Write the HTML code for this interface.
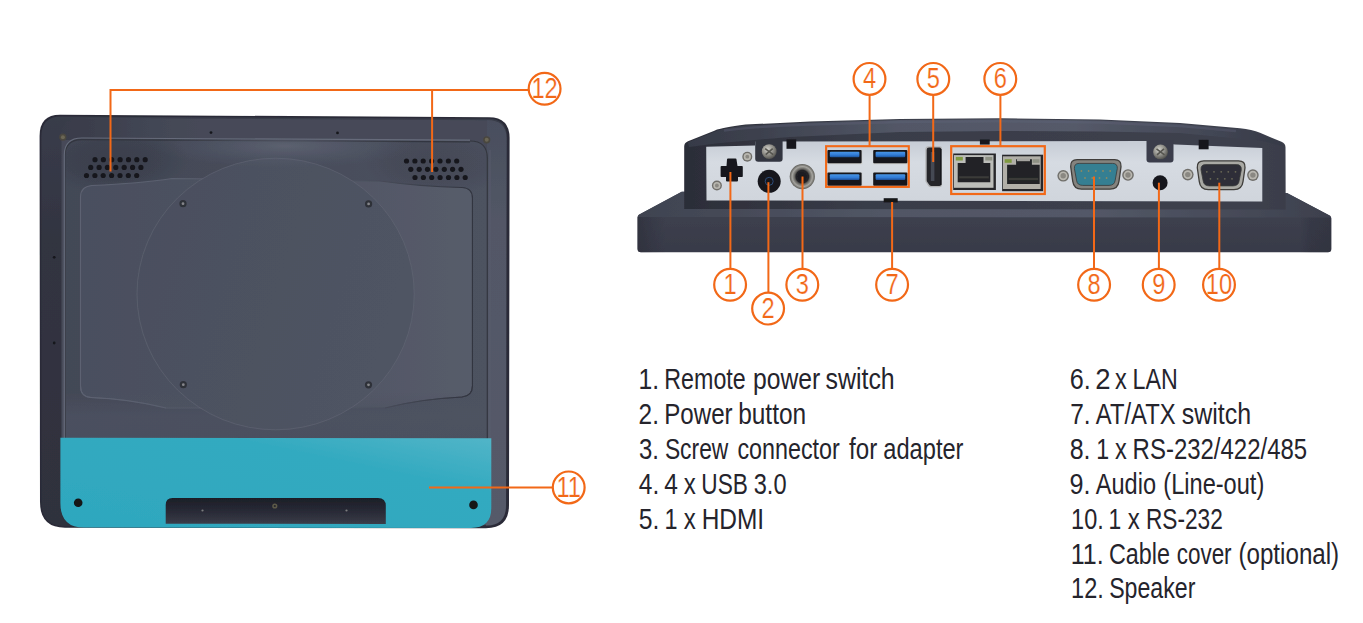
<!DOCTYPE html>
<html lang="en">
<head>
<meta charset="utf-8">
<title>I/O overview</title>
<style>
html,body{margin:0;padding:0;background:#fff;}
body{width:1363px;height:623px;overflow:hidden;position:relative;font-family:"Liberation Sans",sans-serif;}
svg{position:absolute;left:0;top:0;display:block;}
</style>
</head>
<body>
<svg width="1363" height="623" viewBox="0 0 1363 623">

<defs>
<filter id="fSoft" x="-2%" y="-2%" width="104%" height="104%"><feGaussianBlur stdDeviation="0.550"/></filter>
<linearGradient id="gFace" x1="0" y1="0" x2="0" y2="1">
 <stop offset="0" stop-color="#464a58"/><stop offset="0.3" stop-color="#464a58"/><stop offset="1" stop-color="#4b505e"/>
</linearGradient>
<linearGradient id="gPlate" x1="0" y1="0" x2="1" y2="0">
 <stop offset="0" stop-color="#4a4f5e"/><stop offset="0.5" stop-color="#4e5362"/><stop offset="1" stop-color="#575c6a"/>
</linearGradient>
<linearGradient id="gPlateEdge" x1="0" y1="0" x2="1" y2="0">
 <stop offset="0" stop-color="#5d6272"/><stop offset="0.6" stop-color="#565b6a"/><stop offset="1" stop-color="#30333e"/>
</linearGradient>
<linearGradient id="gFaceR" x1="0" y1="0" x2="0" y2="1">
 <stop offset="0" stop-color="#494e5d"/><stop offset="0.25" stop-color="#525766"/><stop offset="1" stop-color="#555a69"/>
</linearGradient>
<linearGradient id="gTopBand" gradientUnits="userSpaceOnUse" x1="56" y1="0" x2="200" y2="0">
 <stop offset="0" stop-color="#393c4a" stop-opacity="1"/><stop offset="0.25" stop-color="#3a3d4b" stop-opacity="0.900"/><stop offset="1" stop-color="#3f4351" stop-opacity="0"/>
</linearGradient>
<linearGradient id="gRimL" x1="0" y1="0" x2="0" y2="1">
 <stop offset="0" stop-color="#393c4a"/><stop offset="0.3" stop-color="#323441"/><stop offset="1" stop-color="#2f313d"/>
</linearGradient>
<linearGradient id="gLow" x1="0" y1="0" x2="0" y2="1">
 <stop offset="0" stop-color="#4e5362" stop-opacity="0"/><stop offset="0.5" stop-color="#4e5362" stop-opacity="0.700"/><stop offset="1" stop-color="#4c5160" stop-opacity="0.800"/>
</linearGradient>
<linearGradient id="gSlot" x1="0" y1="0" x2="0" y2="1">
 <stop offset="0" stop-color="#1c1e27"/><stop offset="0.35" stop-color="#242631"/><stop offset="0.75" stop-color="#30323e"/><stop offset="1" stop-color="#3b3e4a"/>
</linearGradient>
<linearGradient id="gBack" x1="0" y1="0" x2="1" y2="0">
 <stop offset="0" stop-color="#434856"/><stop offset="0.5" stop-color="#474c5a"/><stop offset="1" stop-color="#4d5260"/>
</linearGradient>
<radialGradient id="gShade" cx="0.5" cy="0.5" r="0.5">
 <stop offset="0" stop-color="#2c2f3b" stop-opacity="0.550"/><stop offset="0.6" stop-color="#2c2f3b" stop-opacity="0.350"/><stop offset="1" stop-color="#2c2f3b" stop-opacity="0"/>
</radialGradient>
<radialGradient id="gGlow" cx="0.5" cy="0.5" r="0.5">
 <stop offset="0" stop-color="#6a6f7d" stop-opacity="0.600"/><stop offset="0.5" stop-color="#62677a" stop-opacity="0.300"/><stop offset="1" stop-color="#5a5f6d" stop-opacity="0"/>
</radialGradient>
<clipPath id="cPanel"><path d="M82 138.800 L470 141 Q487.300 141 487.300 158 L487.300 450 L64.300 450 L64.300 156 Q64.300 138.800 82 138.800Z"/></clipPath>
<linearGradient id="gDisc" x1="0" y1="0" x2="1" y2="0.3">
 <stop offset="0" stop-color="#4a4f5e"/><stop offset="1" stop-color="#4f5463"/>
</linearGradient>
<linearGradient id="gTeal" x1="0" y1="1" x2="1" y2="0">
 <stop offset="0" stop-color="#2ea7be"/><stop offset="0.7" stop-color="#33aac0"/><stop offset="1" stop-color="#52b5c8"/>
</linearGradient>
<linearGradient id="gSilver" x1="0" y1="0" x2="0" y2="1">
 <stop offset="0" stop-color="#c6ccd5"/><stop offset="0.35" stop-color="#d6dbe2"/><stop offset="1" stop-color="#d0d5dc"/>
</linearGradient>
<linearGradient id="gBaseFront" x1="0" y1="0" x2="0" y2="1">
 <stop offset="0" stop-color="#444856"/><stop offset="0.4" stop-color="#3d404e"/><stop offset="1" stop-color="#383a48"/>
</linearGradient>
<linearGradient id="gBaseTop" x1="0" y1="0" x2="1" y2="0">
 <stop offset="0" stop-color="#3f4350"/><stop offset="0.12" stop-color="#454957"/><stop offset="0.35" stop-color="#515665"/><stop offset="0.65" stop-color="#535867"/><stop offset="0.88" stop-color="#454957"/><stop offset="1" stop-color="#3d404d"/>
</linearGradient>
<linearGradient id="gHouse" x1="0" y1="0" x2="1" y2="0">
 <stop offset="0" stop-color="#2b2d38"/><stop offset="0.06" stop-color="#2f313c"/><stop offset="0.3" stop-color="#393c48"/><stop offset="0.7" stop-color="#3c3f4c"/><stop offset="0.95" stop-color="#3d404d"/><stop offset="1" stop-color="#3a3d4a"/>
</linearGradient>
<linearGradient id="gTopH" x1="0" y1="0" x2="1" y2="0">
 <stop offset="0" stop-color="#363a47"/><stop offset="0.12" stop-color="#3d414e"/><stop offset="0.35" stop-color="#525766"/><stop offset="0.65" stop-color="#555a69"/><stop offset="0.88" stop-color="#424654"/><stop offset="1" stop-color="#363a47"/>
</linearGradient>
<linearGradient id="gBaseSide" x1="0" y1="0" x2="1" y2="0">
 <stop offset="0" stop-color="#2b2d38" stop-opacity="0.600"/><stop offset="0.04" stop-color="#2b2d38" stop-opacity="0"/><stop offset="0.955" stop-color="#2b2d38" stop-opacity="0"/><stop offset="0.97" stop-color="#2b2d38" stop-opacity="0.350"/><stop offset="1" stop-color="#2b2d38" stop-opacity="0.500"/>
</linearGradient>
<linearGradient id="gTop" x1="0" y1="0" x2="0" y2="1">
 <stop offset="0" stop-color="#565b6a"/><stop offset="0.5" stop-color="#4b4f5e"/><stop offset="1" stop-color="#434755"/>
</linearGradient>
<radialGradient id="gScrew" cx="0.4" cy="0.35" r="0.7">
 <stop offset="0" stop-color="#d2d1cc"/><stop offset="0.5" stop-color="#95948e"/><stop offset="1" stop-color="#4c4b47"/>
</radialGradient>
<radialGradient id="gRing" cx="0.5" cy="0.5" r="0.5">
 <stop offset="0" stop-color="#17171c"/><stop offset="0.5" stop-color="#222227"/><stop offset="0.6" stop-color="#62615d"/><stop offset="0.8" stop-color="#a5a49f"/><stop offset="1" stop-color="#5d5c58"/>
</radialGradient>
<linearGradient id="gUsbBlue" x1="0" y1="0" x2="0" y2="1">
 <stop offset="0" stop-color="#4a96e6"/><stop offset="0.6" stop-color="#2f7ad6"/><stop offset="1" stop-color="#1f4f96"/>
</linearGradient>
<linearGradient id="gUsb" x1="0" y1="0" x2="0" y2="1">
 <stop offset="0" stop-color="#1b1c22"/><stop offset="0.12" stop-color="#1b1c22"/><stop offset="0.2" stop-color="#3f8fe0"/><stop offset="0.5" stop-color="#2a6fc4"/><stop offset="0.58" stop-color="#14151a"/><stop offset="1" stop-color="#1d1e24"/>
</linearGradient>
</defs>

<g id="rear-view" filter="url(#fSoft)">
<path d="M60 114.800 L489 117.200 Q509.600 117.400 509.600 138 L509 505 Q509 528.200 486 528.200 L65 527.700 Q40 527.700 40 502 L39.600 136 Q39.600 114.800 60 114.800Z" fill="#2a2b37"/>
<path d="M61 116.400 L488.500 118.800 Q507 119 507 138 L506.400 505 Q506.400 526 486 526 L65 526 Q41.600 526 41.600 502 L41.300 137 Q41.300 116.400 61 116.400Z" fill="url(#gRimL)"/>
<path d="M80 118 L488 120.300 Q506 120.500 506 138 L505.500 505 Q505.500 525 486 525 L80 525 Q61.500 525 61.500 506 L61.500 137 Q61.500 118 80 118Z" fill="url(#gFace)"/>
<path d="M487 141 L487 120.300 Q506.500 120.500 506.500 138 L506 505 Q506 525.500 486.500 525.500 L486 525.500Z" fill="url(#gFaceR)"/>
<path d="M490 150 L490 438" stroke="#5b6070" stroke-width="1" fill="none" opacity="0.700"/>
<path d="M78 118 L200 118.700 L200 140 L61.500 140 L61.500 134 Q61.500 118 78 118Z" fill="url(#gTopBand)"/>
<path d="M82 138.800 L470 141 Q487.300 141 487.300 158 L487.300 450 L64.300 450 L64.300 156 Q64.300 138.800 82 138.800Z" fill="url(#gBack)"/>
<g clip-path="url(#cPanel)"><ellipse cx="115" cy="160" rx="75" ry="34" fill="url(#gShade)" opacity="0.700"/><ellipse cx="437" cy="162" rx="75" ry="34" fill="url(#gShade)" opacity="0.400"/></g>
<path d="M64.800 440 L64.800 156 Q64.800 139.600 82 139.600 L470 141.800" fill="none" stroke="#33363f" stroke-width="1.200"/>
<path d="M64.300 440 L64.300 155 Q64.300 138 82 138 L470 140.200" fill="none" stroke="#666b7a" stroke-width="1.200"/>
<path d="M470 141 Q487.300 141 487.300 158 L487.300 440" fill="none" stroke="#33363f" stroke-width="1.200"/>
<path d="M80.500 386 L80.500 197 Q80.500 186.500 92 185.500 Q140 183.500 172 178.500 L380 181 Q420 186.500 462 187.500 Q472.400 188 472.400 198 L472.400 386 Q472.400 396 462 397 Q420 399 385 408 L166 408 Q130 399 91 397.500 Q80.500 397 80.500 386Z" fill="url(#gPlate)" stroke="url(#gPlateEdge)" stroke-width="1.100"/>
<rect x="66" y="392" width="420" height="48" fill="url(#gLow)"/>
<path d="M80.500 386 Q80.500 397 91 397.500 Q130 399 166 408 M385 408 Q420 399 462 397 Q472.400 396 472.400 386" fill="none" stroke="url(#gPlateEdge)" stroke-width="1" opacity="0.800"/>
<ellipse cx="275.600" cy="294" rx="138.600" ry="135.800" fill="url(#gDisc)"/>
<ellipse cx="275.600" cy="294" rx="138.600" ry="135.800" fill="none" stroke="#646978" stroke-opacity="0.600" stroke-width="0.900"/>
<g clip-path="url(#cPanel)"><ellipse cx="285" cy="146" rx="130" ry="22" fill="url(#gGlow)"/></g>
<circle cx="183" cy="203.7" r="3.600" fill="#2e3039"/><circle cx="183" cy="203.7" r="1.400" fill="#85868a"/>
<circle cx="368.6" cy="203.9" r="3.600" fill="#2e3039"/><circle cx="368.6" cy="203.9" r="1.400" fill="#85868a"/>
<circle cx="183.3" cy="384.7" r="3.600" fill="#2e3039"/><circle cx="183.3" cy="384.7" r="1.400" fill="#85868a"/>
<circle cx="368.5" cy="384.8" r="3.600" fill="#2e3039"/><circle cx="368.5" cy="384.8" r="1.400" fill="#85868a"/>
<circle cx="62.9" cy="137.2" r="3.600" fill="#4a463f"/><circle cx="62.9" cy="137.2" r="2" fill="#6b6654"/>
<circle cx="486.7" cy="139.8" r="3.600" fill="#4a463f"/><circle cx="486.7" cy="139.8" r="2" fill="#6b6654"/>
<circle cx="211" cy="132.6" r="1.400" fill="#17181d"/>
<circle cx="337.5" cy="132.9" r="1.400" fill="#17181d"/>
<circle cx="54.2" cy="257.3" r="1.400" fill="#17181d"/>
<circle cx="54.2" cy="343" r="1.400" fill="#17181d"/>
<circle cx="95.0" cy="159.7" r="2.6" fill="#17181d"/><circle cx="103.4" cy="159.7" r="2.6" fill="#17181d"/><circle cx="111.7" cy="159.7" r="2.6" fill="#17181d"/><circle cx="120.1" cy="159.7" r="2.6" fill="#17181d"/><circle cx="128.5" cy="159.7" r="2.6" fill="#17181d"/><circle cx="136.8" cy="159.7" r="2.6" fill="#17181d"/><circle cx="145.2" cy="159.7" r="2.6" fill="#17181d"/><circle cx="90.7" cy="167.4" r="2.6" fill="#17181d"/><circle cx="99.1" cy="167.4" r="2.6" fill="#17181d"/><circle cx="107.4" cy="167.4" r="2.6" fill="#17181d"/><circle cx="115.8" cy="167.4" r="2.6" fill="#17181d"/><circle cx="124.2" cy="167.4" r="2.6" fill="#17181d"/><circle cx="132.6" cy="167.4" r="2.6" fill="#17181d"/><circle cx="140.9" cy="167.4" r="2.6" fill="#17181d"/><circle cx="86.5" cy="175.5" r="2.6" fill="#17181d"/><circle cx="94.9" cy="175.5" r="2.6" fill="#17181d"/><circle cx="103.2" cy="175.5" r="2.6" fill="#17181d"/><circle cx="111.6" cy="175.5" r="2.6" fill="#17181d"/><circle cx="120.0" cy="175.5" r="2.6" fill="#17181d"/><circle cx="128.3" cy="175.5" r="2.6" fill="#17181d"/><circle cx="136.7" cy="175.5" r="2.6" fill="#17181d"/>
<circle cx="406.5" cy="161.0" r="2.6" fill="#17181d"/><circle cx="414.9" cy="161.0" r="2.6" fill="#17181d"/><circle cx="423.2" cy="161.0" r="2.6" fill="#17181d"/><circle cx="431.6" cy="161.0" r="2.6" fill="#17181d"/><circle cx="440.0" cy="161.0" r="2.6" fill="#17181d"/><circle cx="448.4" cy="161.0" r="2.6" fill="#17181d"/><circle cx="456.7" cy="161.0" r="2.6" fill="#17181d"/><circle cx="410.8" cy="169.3" r="2.6" fill="#17181d"/><circle cx="419.2" cy="169.3" r="2.6" fill="#17181d"/><circle cx="427.5" cy="169.3" r="2.6" fill="#17181d"/><circle cx="435.9" cy="169.3" r="2.6" fill="#17181d"/><circle cx="444.3" cy="169.3" r="2.6" fill="#17181d"/><circle cx="452.6" cy="169.3" r="2.6" fill="#17181d"/><circle cx="461.0" cy="169.3" r="2.6" fill="#17181d"/><circle cx="415.0" cy="177.5" r="2.6" fill="#17181d"/><circle cx="423.4" cy="177.5" r="2.6" fill="#17181d"/><circle cx="431.7" cy="177.5" r="2.6" fill="#17181d"/><circle cx="440.1" cy="177.5" r="2.6" fill="#17181d"/><circle cx="448.5" cy="177.5" r="2.6" fill="#17181d"/><circle cx="456.9" cy="177.5" r="2.6" fill="#17181d"/><circle cx="465.2" cy="177.5" r="2.6" fill="#17181d"/>
<path d="M60.400 437.800 L491.300 438.300 L491.300 508 Q491.300 527.900 471 527.900 L84 527.600 Q60.400 527.600 60.400 503Z" fill="url(#gTeal)"/>
<path d="M165.700 523.700 L165.700 505 Q165.700 498 172.500 498 L378 498 Q385.800 498 385.800 506 L385.800 523.900Z" fill="url(#gSlot)"/>
<circle cx="78.200" cy="502.800" r="4.300" fill="#121318"/><circle cx="473.500" cy="504.900" r="4.300" fill="#121318"/>
<circle cx="274.800" cy="506" r="2.600" fill="#5d5a48"/><circle cx="274.800" cy="506" r="1.100" fill="#24252b"/><circle cx="202.500" cy="510.500" r="1.100" fill="#7b7c7e"/><circle cx="346.500" cy="510.500" r="1.100" fill="#7b7c7e"/>
</g>
<g id="io-view" filter="url(#fSoft)">
<path d="M681.700 191.700 L1287 192.900 L1329.600 215.400 Q1331.300 216.400 1331.300 218.500 L1331.300 249 Q1331.300 252.300 1328 252.300 L641 252.200 Q637.500 252.200 637.500 248.700 L637.500 217.500 Q637.500 215.400 639.300 214.400Z" fill="url(#gBaseFront)"/>
<path d="M681.700 191.700 L1287 192.900 L1329.600 215.400 Q1330.800 216.200 1331.100 217.600 L637.700 217 Q637.900 215.200 639.300 214.400Z" fill="url(#gBaseTop)"/>
<path d="M637.500 217 L1331.300 217.600 L1331.300 249 Q1331.300 252.300 1328 252.300 L641 252.200 Q637.500 252.200 637.500 248.700Z" fill="url(#gBaseSide)"/>
<path d="M684.200 209 L684.200 146.500 Q684.200 142.700 688 141.200 L715 130.400 Q722 127.600 745.600 124.600 L810 121.500 L900 119 L1000 118.200 L1100 119.500 L1180 123 L1240 128.200 Q1252 129.600 1260 132.800 L1281.500 141.800 Q1285.500 143.400 1285.500 147.500 L1285.700 209.500 L684.200 209Z" fill="url(#gHouse)"/>
<path d="M688 142.300 L715.500 131.400 Q722 128.700 745.600 125.600 L810 122.500 L900 120 L1000 119.200 L1100 120.500 L1180 124 L1240 129.200 Q1252 130.600 1260 133.800 L1281 142.600 L1283.500 146.500 L1262 141 L1180 133 L1100 131.500 L1000 131 L900 132 L790 137 L720 143 L689 147Z" fill="url(#gTopH)"/>
<path d="M724 130.500 Q760 126 810 124.500 L900 122 L1000 121.200 L1100 122.500 L1180 126 L1236 131" fill="none" stroke="#60657a" stroke-width="2.400" opacity="0.350"/>
<path d="M706.200 146.800 L755 145.500 L755 141.500 L1147 141 L1175 144.500 L1262.300 148 L1262.300 201.400 L706.500 200.500Z" fill="url(#gSilver)"/>
<path d="M755.2 140 L782.6 140 L782.6 158.8 Q782.6 161.8 779.6 161.8 L758.2 161.8 Q755.2 161.8 755.2 158.8Z" fill="#323540"/>
<circle cx="769.2" cy="151.6" r="7.400" fill="url(#gScrew)"/>
<path d="M765.2 148.6 L773.2 154.6 M765.7 154.6 L772.7 148.6" stroke="#55544f" stroke-width="1.600" fill="none"/>
<path d="M1146.5 140 L1173.5 140 L1173.5 159.5 Q1173.5 162.5 1170.5 162.5 L1149.5 162.5 Q1146.5 162.5 1146.5 159.5Z" fill="#3b3e4b"/>
<circle cx="1160.5" cy="151.9" r="7.400" fill="url(#gScrew)"/>
<path d="M1156.5 148.9 L1164.5 154.9 M1157.0 154.9 L1164.0 148.9" stroke="#55544f" stroke-width="1.600" fill="none"/>
<rect x="786.500" y="139.400" width="9.700" height="9.400" fill="#15161b"/>
<rect x="979.900" y="139.500" width="9.800" height="5.100" fill="#15161b"/>
<rect x="1198.700" y="139.800" width="9.900" height="9.500" fill="#15161b"/>
<path d="M728 158.500 L735.500 158.500 Q736.500 158.500 736.500 159.500 L737.500 166 L742 166 Q742.800 166 742.800 167 L742.800 176.200 Q742.800 177 742 177 L738 177 L738 180.500 Q738 181.400 737 181.400 L727 181.400 Q726 181.400 726 180.500 L726 177 L721.500 177 Q720.600 177 720.600 176.200 L720.600 167 Q720.600 166 721.500 166 L726.500 166 L727 159.500 Q727 158.500 728 158.500Z" fill="#17181d"/>
<circle cx="747.3" cy="156.7" r="5" fill="#6f6e6a"/><circle cx="747.3" cy="156.7" r="3.6" fill="#b9b7b0"/><circle cx="747.3" cy="156.7" r="1.9" fill="#8a8882"/>
<circle cx="716.9" cy="185.5" r="5" fill="#6f6e6a"/><circle cx="716.9" cy="185.5" r="3.6" fill="#b9b7b0"/><circle cx="716.9" cy="185.5" r="1.9" fill="#8a8882"/>
<circle cx="1063.2" cy="175.8" r="5.8" fill="#6f6e6a"/><circle cx="1063.2" cy="175.8" r="4.4" fill="#b9b7b0"/><circle cx="1063.2" cy="175.8" r="2.6999999999999997" fill="#8a8882"/>
<circle cx="1128" cy="175" r="5.8" fill="#6f6e6a"/><circle cx="1128" cy="175" r="4.4" fill="#b9b7b0"/><circle cx="1128" cy="175" r="2.6999999999999997" fill="#8a8882"/>
<circle cx="1187.8" cy="174.6" r="5.8" fill="#6f6e6a"/><circle cx="1187.8" cy="174.6" r="4.4" fill="#b9b7b0"/><circle cx="1187.8" cy="174.6" r="2.6999999999999997" fill="#8a8882"/>
<circle cx="1252.9" cy="175.1" r="5.8" fill="#6f6e6a"/><circle cx="1252.9" cy="175.1" r="4.4" fill="#b9b7b0"/><circle cx="1252.9" cy="175.1" r="2.6999999999999997" fill="#8a8882"/>
<circle cx="769.200" cy="181.300" r="11.500" fill="#17181d"/><circle cx="769.200" cy="181.300" r="4" fill="none" stroke="#2c4a78" stroke-width="1"/>
<circle cx="802.300" cy="176.600" r="12.600" fill="url(#gRing)"/>
<rect x="827.4" y="150" width="34.800" height="14.200" fill="#c9c9c5"/>
<rect x="827.4" y="150" width="34.200" height="13.200" rx="1" fill="#16171c"/>
<rect x="829.8" y="151.7" width="29.600" height="5.600" rx="1" fill="url(#gUsbBlue)"/>
<rect x="873.2" y="150" width="34.800" height="14.200" fill="#c9c9c5"/>
<rect x="873.2" y="150" width="34.200" height="13.200" rx="1" fill="#16171c"/>
<rect x="875.6" y="151.7" width="29.600" height="5.600" rx="1" fill="url(#gUsbBlue)"/>
<rect x="827.4" y="172.6" width="34.800" height="14.200" fill="#c9c9c5"/>
<rect x="827.4" y="172.6" width="34.200" height="13.200" rx="1" fill="#16171c"/>
<rect x="829.8" y="174.29999999999998" width="29.600" height="5.600" rx="1" fill="url(#gUsbBlue)"/>
<rect x="873.2" y="172.6" width="34.800" height="14.200" fill="#c9c9c5"/>
<rect x="873.2" y="172.6" width="34.200" height="13.200" rx="1" fill="#16171c"/>
<rect x="875.6" y="174.29999999999998" width="29.600" height="5.600" rx="1" fill="url(#gUsbBlue)"/>
<path d="M928.300 146.300 L939.800 146.300 Q942 146.300 942 148.600 L942 184.500 Q942 187.200 939.300 187.200 L930.500 187.200 Q929.300 187.200 928.500 186.300 L926 182.600 Q925.300 181.600 925.300 180.300 L925.300 149.300 Q925.300 146.300 928.300 146.300Z" fill="#b4b5b6"/>
<path d="M929 147.600 L939.500 147.600 Q941.300 147.600 941.300 149.300 L941.300 184 Q941.300 186 939.300 186 L931.300 186 Q930.300 186 929.600 185.200 L927.300 182 Q926.700 181.200 926.700 180.200 L926.700 149.800 Q926.700 147.600 929 147.600Z" fill="#25262c"/>
<rect x="930.800" y="152" width="3.600" height="29" fill="#454853"/>
<path d="M940.800 149 L940.800 185" stroke="#17181c" stroke-width="1.400" fill="none"/>
<rect x="953.2" y="153.5" width="42.7" height="36.5" fill="#26272a"/><rect x="954.0" y="155.1" width="39.5" height="32.7" fill="#bcbdb9"/><path d="M957.7 163 L965.6 163 L965.6 156.9 L983.5 156.9 L983.5 163 L990.3 163 L990.3 182.2 L957.7 182.2Z" fill="#222326"/><rect x="959.2" y="176.2" width="29.6" height="2.200" fill="#3a3a38"/><rect x="955.8" y="156.9" width="7" height="3.600" fill="#7f9a40"/><rect x="985.3" y="156.9" width="7" height="3.600" fill="#8e9184"/>
<rect x="1002.1" y="154.7" width="41.0" height="36.5" fill="#26272a"/><rect x="1002.9" y="156.29999999999998" width="37.8" height="32.7" fill="#b1afa8"/><path d="M1007.1 164.8 L1016.1 164.8 L1016.1 159.2 L1031.9 159.2 L1031.9 164.8 L1039.7 164.8 L1039.7 183.9 L1007.1 183.9Z" fill="#222326"/><rect x="1008.6" y="177.9" width="29.6" height="2.200" fill="#3a3a38"/><rect x="1004.7" y="159.2" width="7" height="3.600" fill="#7f9a40"/><rect x="1032.5" y="159.2" width="7" height="3.600" fill="#8e9184"/>
<rect x="1017" y="158.600" width="13" height="2.600" fill="#a5a4a0"/>
<rect x="883.700" y="198.200" width="14" height="4.200" fill="#131419"/>
<path d="M1077.2 159.6 L1114.5 159.6 Q1121.5 159.6 1121.0 166.6 L1119.0 181.2 Q1118.0 189.2 1110.0 189.2 L1081.7 189.2 Q1073.7 189.2 1072.7 181.2 L1070.7 166.6 Q1070.2 159.6 1077.2 159.6Z" fill="#84837e" stroke="#3f3e3b" stroke-width="1.300"/><path d="M1079.2 163.4 L1112.5 163.4 Q1117.7 163.4 1117.3 168.6 L1115.2 180.2 Q1114.5 185.39999999999998 1109.0 185.39999999999998 L1082.7 185.39999999999998 Q1077.2 185.39999999999998 1076.5 180.2 L1074.4 168.6 Q1074.0 163.4 1079.2 163.4Z" fill="#357f92" stroke="#3a3a3a" stroke-width="0.800"/><circle cx="1081.4" cy="171.0" r="0.900" fill="#8d8a62"/><circle cx="1088.6" cy="171.0" r="0.900" fill="#8d8a62"/><circle cx="1095.8" cy="171.0" r="0.900" fill="#8d8a62"/><circle cx="1103.0" cy="171.0" r="0.900" fill="#8d8a62"/><circle cx="1110.2" cy="171.0" r="0.900" fill="#8d8a62"/><circle cx="1085.0" cy="178.0" r="0.900" fill="#8d8a62"/><circle cx="1092.2" cy="178.0" r="0.900" fill="#8d8a62"/><circle cx="1099.5" cy="178.0" r="0.900" fill="#8d8a62"/><circle cx="1106.6" cy="178.0" r="0.900" fill="#8d8a62"/>
<path d="M1203.8 160.8 L1238.5 160.8 Q1245.5 160.8 1245.0 167.8 L1243.0 181.7 Q1242.0 189.7 1234.0 189.7 L1208.3 189.7 Q1200.3 189.7 1199.3 181.7 L1197.3 167.8 Q1196.8 160.8 1203.8 160.8Z" fill="#a9a9a4" stroke="#3f3e3b" stroke-width="1.300"/><path d="M1205.8 164.60000000000002 L1236.5 164.60000000000002 Q1241.7 164.60000000000002 1241.3 169.8 L1239.2 180.7 Q1238.5 185.89999999999998 1233.0 185.89999999999998 L1209.3 185.89999999999998 Q1203.8 185.89999999999998 1203.1 180.7 L1201.0 169.8 Q1200.6 164.60000000000002 1205.8 164.60000000000002Z" fill="#2d2f37" stroke="#3a3a3a" stroke-width="0.800"/><circle cx="1206.8" cy="171.8" r="0.900" fill="#6b6857"/><circle cx="1214.0" cy="171.8" r="0.900" fill="#6b6857"/><circle cx="1221.2" cy="171.8" r="0.900" fill="#6b6857"/><circle cx="1228.3" cy="171.8" r="0.900" fill="#6b6857"/><circle cx="1235.5" cy="171.8" r="0.900" fill="#6b6857"/><circle cx="1210.4" cy="178.8" r="0.900" fill="#6b6857"/><circle cx="1217.6" cy="178.8" r="0.900" fill="#6b6857"/><circle cx="1224.8" cy="178.8" r="0.900" fill="#6b6857"/><circle cx="1232.0" cy="178.8" r="0.900" fill="#6b6857"/>
<circle cx="1160.100" cy="182.700" r="7.500" fill="#16171c"/>
</g>
<g id="callouts" fill="none" stroke="#f26817" stroke-width="2">
<path d="M110.500 171.400 L110.500 90 L528 90 M432.100 90 L432.100 172"/>
<path d="M429 487.600 L552 487.600"/>
<rect x="826.100" y="146.200" width="82.700" height="40.700" stroke-width="2.100"/>
<rect x="951.200" y="146.200" width="93.600" height="47.800" stroke-width="2.200"/>
<path d="M730.4 172 L730.4 268"/>
<path d="M768.4 182.2 L768.4 292"/>
<path d="M802.5 176.5 L802.5 268"/>
<path d="M892.1 202 L892.1 268"/>
<path d="M1094 176.5 L1094 268"/>
<path d="M1158.9 182.7 L1158.9 268"/>
<path d="M1219.3 182.7 L1219.3 268"/>
<path d="M869.6 95.5 L869.6 146"/>
<path d="M933.2 95.5 L933.2 162"/>
<path d="M1000.4 95.5 L1000.4 146"/>
</g>
<g id="badges" font-family="'Liberation Sans',sans-serif" font-size="30.300" fill="#f26817" text-anchor="middle">
<circle cx="730.1" cy="284.8" r="15.900" fill="#fff" stroke="#f26817" stroke-width="2.200"/>
<text transform="translate(730.1 294.20) scale(0.78 1)" x="0" y="0" stroke="#fff" stroke-width="0.200">1</text>
<circle cx="768.1" cy="308.6" r="15.900" fill="#fff" stroke="#f26817" stroke-width="2.200"/>
<text transform="translate(768.1 318.00) scale(0.78 1)" x="0" y="0" stroke="#fff" stroke-width="0.200">2</text>
<circle cx="802.3" cy="284.8" r="15.900" fill="#fff" stroke="#f26817" stroke-width="2.200"/>
<text transform="translate(802.3 294.20) scale(0.78 1)" x="0" y="0" stroke="#fff" stroke-width="0.200">3</text>
<circle cx="869.5" cy="78.9" r="15.900" fill="#fff" stroke="#f26817" stroke-width="2.200"/>
<text transform="translate(869.5 88.30) scale(0.78 1)" x="0" y="0" stroke="#fff" stroke-width="0.200">4</text>
<circle cx="933.3" cy="78.9" r="15.900" fill="#fff" stroke="#f26817" stroke-width="2.200"/>
<text transform="translate(933.3 88.30) scale(0.78 1)" x="0" y="0" stroke="#fff" stroke-width="0.200">5</text>
<circle cx="1000.3" cy="78.9" r="15.900" fill="#fff" stroke="#f26817" stroke-width="2.200"/>
<text transform="translate(1000.3 88.30) scale(0.78 1)" x="0" y="0" stroke="#fff" stroke-width="0.200">6</text>
<circle cx="892.1" cy="284.8" r="15.900" fill="#fff" stroke="#f26817" stroke-width="2.200"/>
<text transform="translate(892.1 294.20) scale(0.78 1)" x="0" y="0" stroke="#fff" stroke-width="0.200">7</text>
<circle cx="1094.1" cy="284.8" r="15.900" fill="#fff" stroke="#f26817" stroke-width="2.200"/>
<text transform="translate(1094.1 294.20) scale(0.78 1)" x="0" y="0" stroke="#fff" stroke-width="0.200">8</text>
<circle cx="1158.7" cy="284.8" r="15.900" fill="#fff" stroke="#f26817" stroke-width="2.200"/>
<text transform="translate(1158.7 294.20) scale(0.78 1)" x="0" y="0" stroke="#fff" stroke-width="0.200">9</text>
<circle cx="1219" cy="284.8" r="15.900" fill="#fff" stroke="#f26817" stroke-width="2.200"/>
<text transform="translate(1219 294.20) scale(0.78 1)" x="0" y="0" stroke="#fff" stroke-width="0.200">10</text>
<circle cx="568.7" cy="487.4" r="15.900" fill="#fff" stroke="#f26817" stroke-width="2.200"/>
<text transform="translate(568.7 496.80) scale(0.78 1)" x="0" y="0" stroke="#fff" stroke-width="0.200">11</text>
<circle cx="544.6" cy="88.75" r="15.900" fill="#fff" stroke="#f26817" stroke-width="2.200"/>
<text transform="translate(544.6 98.15) scale(0.78 1)" x="0" y="0" stroke="#fff" stroke-width="0.200">12</text>
</g>
<g id="legend" font-family="'Liberation Sans',sans-serif" font-size="28.600" fill="#25242c">
<text y="389.0"><tspan x="638.62" textLength="20.63" lengthAdjust="spacingAndGlyphs">1.</tspan> <tspan x="664.32" textLength="81.38" lengthAdjust="spacingAndGlyphs">Remote</tspan> <tspan x="753.06" textLength="67.24" lengthAdjust="spacingAndGlyphs">power</tspan> <tspan x="825.49" textLength="69.23" lengthAdjust="spacingAndGlyphs">switch</tspan></text>
<text y="423.9"><tspan x="638.61" textLength="20.34" lengthAdjust="spacingAndGlyphs">2.</tspan> <tspan x="664.21" textLength="68.42" lengthAdjust="spacingAndGlyphs">Power</tspan> <tspan x="738.18" textLength="67.95" lengthAdjust="spacingAndGlyphs">button</tspan></text>
<text y="458.8"><tspan x="639.03" textLength="19.95" lengthAdjust="spacingAndGlyphs">3.</tspan> <tspan x="664.90" textLength="63.43" lengthAdjust="spacingAndGlyphs">Screw</tspan> <tspan x="737.38" textLength="102.43" lengthAdjust="spacingAndGlyphs">connector</tspan> <tspan x="849.12" textLength="28.16" lengthAdjust="spacingAndGlyphs">for</tspan> <tspan x="883.27" textLength="80.24" lengthAdjust="spacingAndGlyphs">adapter</tspan></text>
<text y="493.7"><tspan x="638.85" textLength="20.40" lengthAdjust="spacingAndGlyphs">4.</tspan> <tspan x="664.37" textLength="13.63" lengthAdjust="spacingAndGlyphs">4</tspan> <tspan x="683.76" textLength="12.02" lengthAdjust="spacingAndGlyphs">x</tspan> <tspan x="701.33" textLength="46.57" lengthAdjust="spacingAndGlyphs">USB</tspan> <tspan x="753.73" textLength="32.79" lengthAdjust="spacingAndGlyphs">3.0</tspan></text>
<text y="528.6"><tspan x="638.67" textLength="20.65" lengthAdjust="spacingAndGlyphs">5.</tspan> <tspan x="664.40" textLength="13.05" lengthAdjust="spacingAndGlyphs">1</tspan> <tspan x="683.76" textLength="12.02" lengthAdjust="spacingAndGlyphs">x</tspan> <tspan x="701.65" textLength="62.50" lengthAdjust="spacingAndGlyphs">HDMI</tspan></text>
<text y="389.0"><tspan x="1069.67" textLength="20.99" lengthAdjust="spacingAndGlyphs">6.</tspan> <tspan x="1095.22" textLength="15.30" lengthAdjust="spacingAndGlyphs">2</tspan> <tspan x="1115.07" textLength="11.77" lengthAdjust="spacingAndGlyphs">x</tspan> <tspan x="1132.53" textLength="45.21" lengthAdjust="spacingAndGlyphs">LAN</tspan></text>
<text y="423.9"><tspan x="1070.30" textLength="20.36" lengthAdjust="spacingAndGlyphs">7.</tspan> <tspan x="1095.80" textLength="79.74" lengthAdjust="spacingAndGlyphs">AT/ATX</tspan> <tspan x="1181.84" textLength="69.34" lengthAdjust="spacingAndGlyphs">switch</tspan></text>
<text y="458.8"><tspan x="1069.72" textLength="20.86" lengthAdjust="spacingAndGlyphs">8.</tspan> <tspan x="1096.18" textLength="12.90" lengthAdjust="spacingAndGlyphs">1</tspan> <tspan x="1115.07" textLength="11.77" lengthAdjust="spacingAndGlyphs">x</tspan> <tspan x="1132.62" textLength="174.55" lengthAdjust="spacingAndGlyphs">RS-232/422/485</tspan></text>
<text y="493.7"><tspan x="1069.56" textLength="20.98" lengthAdjust="spacingAndGlyphs">9.</tspan> <tspan x="1095.80" textLength="60.20" lengthAdjust="spacingAndGlyphs">Audio</tspan> <tspan x="1163.30" textLength="101.00" lengthAdjust="spacingAndGlyphs">(Line-out)</tspan></text>
<text y="528.6"><tspan x="1071.10" textLength="32.66" lengthAdjust="spacingAndGlyphs">10.</tspan> <tspan x="1108.60" textLength="12.75" lengthAdjust="spacingAndGlyphs">1</tspan> <tspan x="1127.84" textLength="12.03" lengthAdjust="spacingAndGlyphs">x</tspan> <tspan x="1145.92" textLength="76.90" lengthAdjust="spacingAndGlyphs">RS-232</tspan></text>
<text y="563.5"><tspan x="1070.80" textLength="32.95" lengthAdjust="spacingAndGlyphs">11.</tspan> <tspan x="1109.02" textLength="60.91" lengthAdjust="spacingAndGlyphs">Cable</tspan> <tspan x="1176.72" textLength="54.87" lengthAdjust="spacingAndGlyphs">cover</tspan> <tspan x="1238.46" textLength="100.72" lengthAdjust="spacingAndGlyphs">(optional)</tspan></text>
<text y="598.4"><tspan x="1071.10" textLength="32.66" lengthAdjust="spacingAndGlyphs">12.</tspan> <tspan x="1109.16" textLength="86.25" lengthAdjust="spacingAndGlyphs">Speaker</tspan></text>
</g>
</svg>
</body>
</html>
